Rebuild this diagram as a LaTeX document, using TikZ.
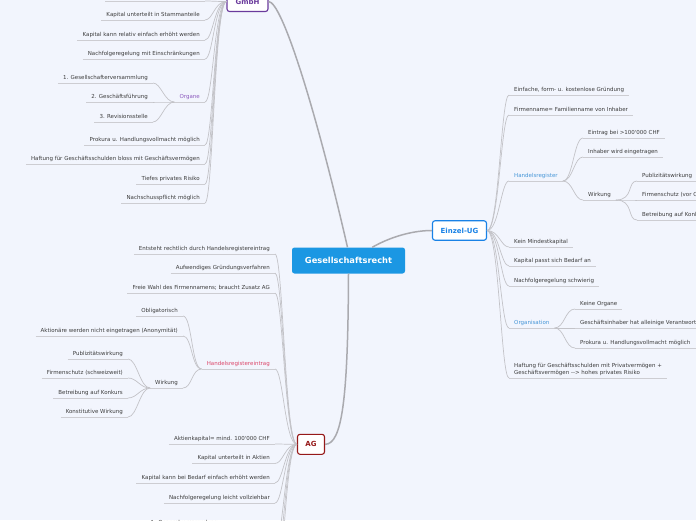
\documentclass[tikz,border=0pt]{standalone}
\usepackage{fontspec}
\setmainfont{DejaVu Sans}
\definecolor{bg}{RGB}{242,245,253}
\definecolor{txt}{RGB}{60,60,60}
\definecolor{ulc}{RGB}{205,205,210}
\definecolor{cc}{RGB}{195,195,200}
\definecolor{mainc}{RGB}{170,170,175}
\definecolor{rootc}{RGB}{27,151,227}
\definecolor{gmbhc}{RGB}{106,58,156}
\definecolor{eugc}{RGB}{25,130,230}
\definecolor{agc}{RGB}{150,25,25}
\definecolor{orgc}{RGB}{140,90,190}
\definecolor{hrec}{RGB}{220,70,105}
\definecolor{hrc}{RGB}{70,150,215}
\begin{document}
\begin{tikzpicture}[x=1pt,y=-1pt,
  uline/.style={draw=ulc, line width=0.7pt},
  conn/.style={draw=cc, line width=0.7pt},
  mainconn/.style={draw=mainc, line width=1.5pt},
  leaf/.style={font=\fontsize{5.5}{7}\selectfont, text=txt, inner xsep=5pt, inner ysep=2.4pt,
    text height=4.1pt, text depth=1.2pt, align=left,
    append after command={(\tikzlastnode.south west) edge[uline] (\tikzlastnode.south east)}},
  L/.style={leaf, anchor=south east},
  R/.style={leaf, anchor=south west},
  topic/.style={draw, line width=1.1pt, fill=white, rounded corners=2.5pt,
    font=\fontsize{7}{8}\selectfont\bfseries, minimum height=20pt, inner sep=0pt},
]
\useasboundingbox (0,0) rectangle (696,520);
\fill[bg] (0,0) rectangle (696,520);

% ---------- topics ----------
\node[fill=rootc, rounded corners=2.5pt, text=white, font=\fontsize{8.3}{10}\selectfont\bfseries,
      minimum width=113pt, minimum height=26pt, inner sep=0pt] (root) at (348.5,260.5) {Gesellschaftsrecht};
\node[topic, draw=gmbhc, text=gmbhc, minimum width=41pt] (gmbh) at (247.5,1.5) {GmbH};
\node[topic, draw=eugc, text=eugc, minimum width=54pt, minimum height=19.5pt] (eug) at (459.5,230.5) {Einzel-UG};
\node[topic, draw=agc, text=agc, minimum width=27pt] (ag) at (311,444.3) {AG};

\draw[mainconn] (root.north) ++(-1,0) coordinate (rt) .. controls (316,110) and (282,1.5) .. (gmbh.east);
\draw[mainconn] (root.north east) ++(-33,0) coordinate (rte) .. controls (392,236) and (414,230.5) .. (eug.west);
\draw[mainconn] (root.south) .. controls (348,400) and (342,444.3) .. (ag.east);

% ---------- GmbH ----------
\coordinate (g0a) at (105,1);
\coordinate (g0b) at (205,1);
\draw[uline] (g0a) -- (g0b);
\node[L] (g1) at (205,20) {Kapital unterteilt in Stammanteile};
\node[L] (g2) at (205,40) {Kapital kann relativ einfach erhöht werden};
\node[L] (g3) at (205,59) {Nachfolgeregelung mit Einschränkungen};
\node[L, text=orgc] (g4) at (205,102) {Organe};
\node[L] (g4a) at (153,83) {1. Gesellschafterversammlung};
\node[L] (g4b) at (153,102) {2. Geschäftsführung};
\node[L] (g4c) at (153,122) {3. Revisionsstelle};
\node[L] (g5) at (205,145) {Prokura u. Handlungsvollmacht möglich};
\node[L] (g6) at (205,164) {Haftung für Geschäftsschulden bloss mit Geschäftsvermögen};
\node[L] (g7) at (205,184) {Tiefes privates Risiko};
\node[L] (g8) at (205,203) {Nachschusspflicht möglich};

\draw[conn] (gmbh.west) .. controls +(-12,0) and +(8,0) .. (g0b);
\foreach \n in {g1,g2,g3,g4,g5,g6,g7,g8}
  \draw[conn] (gmbh.west) .. controls +(-12,0) and +(8,0) .. (\n.south east);
\foreach \n in {g4a,g4b,g4c}
  \draw[conn] (g4.south west) .. controls +(-10,0) and +(8,0) .. (\n.south east);

% ---------- AG ----------
\node[L] (a1) at (275,254) {Entsteht rechtlich durch Handelsregistereintrag};
\node[L] (a2) at (275,273) {Aufwendiges Gründungsverfahren};
\node[L] (a3) at (275,293) {Freie Wahl des Firmennamens; braucht Zusatz AG};
\node[L, text=hrec] (a4) at (275,369) {Handelsregistereintrag};
\node[L] (a4a) at (183,316) {Obligatorisch};
\node[L] (a4b) at (183,336) {Aktionäre werden nicht eingetragen (Anonymität)};
\node[L] (a4c) at (183,388) {Wirkung};
\node[L] (a4c1) at (128,359) {Publizitätswirkung};
\node[L] (a4c2) at (128,378) {Firmenschutz (schweizweit)};
\node[L] (a4c3) at (128,398) {Betreibung auf Konkurs};
\node[L] (a4c4) at (128,417) {Konstitutive Wirkung};
\node[L] (a5) at (275,444) {Aktienkapital= mind. 100\textquotesingle000 CHF};
\node[L] (a6) at (275,463.5) {Kapital unterteilt in Aktien};
\node[L] (a7) at (275,483) {Kapital kann bei Bedarf einfach erhöht werden};
\node[L] (a8) at (275,503) {Nachfolgeregelung leicht vollziehbar};
\node[L] (a9) at (223,528) {1. Generalversammlung};
\coordinate (ax1) at (275,545);
\coordinate (ax2) at (275,570);
\coordinate (ax3) at (275,600);

\foreach \n in {a1,a2,a3,a4,a5,a6,a7,a8}
  \draw[conn] (ag.west) .. controls +(-12,0) and +(8,0) .. (\n.south east);
\foreach \n in {ax1,ax2,ax3}
  \draw[conn] (ag.west) .. controls +(-12,0) and +(8,0) .. (\n);
\foreach \n in {a4a,a4b,a4c}
  \draw[conn] (a4.south west) .. controls +(-10,0) and +(9,0) .. (\n.south east);
\foreach \n in {a4c1,a4c2,a4c3,a4c4}
  \draw[conn] (a4c.south west) .. controls +(-10,0) and +(9,0) .. (\n.south east);

% ---------- Einzel-UG ----------
\node[R] (e1) at (509,95) {Einfache, form- u. kostenlose Gründung};
\node[R] (e2) at (509,115) {Firmenname= Familienname von Inhaber};
\node[R, text=hrc] (e3) at (509,181) {Handelsregister};
\node[R] (e3a) at (583,138) {Eintrag bei >100\textquotesingle000 CHF};
\node[R] (e3b) at (583,157) {Inhaber wird eingetragen};
\node[R] (e3c) at (583,200) {Wirkung};
\node[R] (e3c1) at (637,181) {Publizitätswirkung};
\node[R] (e3c2) at (637,200) {Firmenschutz (vor Ort)};
\node[R] (e3c3) at (637,220) {Betreibung auf Konkurs};
\node[R] (e4) at (509,247) {Kein Mindestkapital};
\node[R] (e5) at (509,266) {Kapital passt sich Bedarf an};
\node[R] (e6) at (509,286) {Nachfolgeregelung schwierig};
\node[R, text=hrc] (e7) at (509,328) {Organisation};
\node[R] (e7a) at (575,309) {Keine Organe};
\node[R] (e7b) at (575,328) {Geschäftsinhaber hat alleinige Verantwortung};
\node[R] (e7c) at (575,348) {Prokura u. Handlungsvollmacht möglich};
\node[R] (e8) at (509,378) {Haftung für Geschäftsschulden mit Privatvermögen +\\Geschäftsvermögen -\kern0pt-\kern0pt> hohes privates Risiko};

\foreach \n in {e1,e2,e3,e4,e5,e6,e7,e8}
  \draw[conn] (eug.east) .. controls +(12,0) and +(-8,0) .. (\n.south west);
\foreach \n in {e3a,e3b,e3c}
  \draw[conn] (e3.south east) .. controls +(10,0) and +(-9,0) .. (\n.south west);
\foreach \n in {e3c1,e3c2,e3c3}
  \draw[conn] (e3c.south east) .. controls +(18,0) and +(-10,0) .. (\n.south west);
\foreach \n in {e7a,e7b,e7c}
  \draw[conn] (e7.south east) .. controls +(10,0) and +(-10,0) .. (\n.south west);
\end{tikzpicture}
\end{document}
